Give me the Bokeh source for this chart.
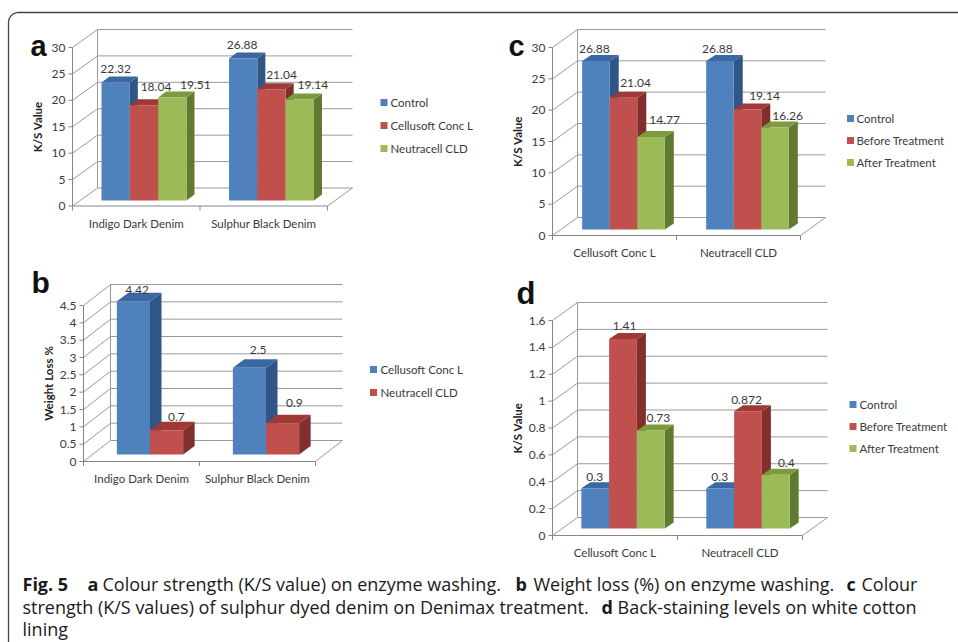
import math
from bokeh.plotting import figure
from bokeh.models import Range1d, ColumnDataSource
from bokeh.core.properties import value
from bokeh.embed import file_html
from bokeh.resources import INLINE

# ---------------- data ----------------
a_categories = ["Indigo Dark Denim", "Sulphur Black Denim"]
a_series = ["Control", "Cellusoft Conc L", "Neutracell CLD"]
a_control = [22.32, 26.88]
a_cellusoft = [18.04, 21.04]
a_neutracell = [19.51, 19.14]
a_ticks = [0, 5, 10, 15, 20, 25, 30]
a_tick_labels = ["0", "5", "10", "15", "20", "25", "30"]
a_ylabel = "K/S Value"

b_categories = ["Indigo Dark Denim", "Sulphur Black Denim"]
b_series = ["Cellusoft Conc L", "Neutracell CLD"]
b_cellusoft = [4.42, 2.5]
b_neutracell = [0.7, 0.9]
b_ticks = [0, 0.5, 1, 1.5, 2, 2.5, 3, 3.5, 4, 4.5]
b_tick_labels = ["0", "0.5", "1", "1.5", "2", "2.5", "3", "3.5", "4", "4.5"]
b_ylabel = "Weight Loss %"

c_categories = ["Cellusoft Conc L", "Neutracell CLD"]
c_series = ["Control", "Before Treatment", "After Treatment"]
c_control = [26.88, 26.88]
c_before = [21.04, 19.14]
c_after = [14.77, 16.26]
c_ticks = [0, 5, 10, 15, 20, 25, 30]
c_tick_labels = ["0", "5", "10", "15", "20", "25", "30"]
c_ylabel = "K/S Value"

d_categories = ["Cellusoft Conc L", "Neutracell CLD"]
d_series = ["Control", "Before Treatment", "After Treatment"]
d_control = [0.3, 0.3]
d_before = [1.41, 0.872]
d_after = [0.73, 0.4]
d_ticks = [0, 0.2, 0.4, 0.6, 0.8, 1.0, 1.2, 1.4, 1.6]
d_tick_labels = ["0", "0.2", "0.4", "0.6", "0.8", "1", "1.2", "1.4", "1.6"]
d_ylabel = "K/S Value"

caption_lines = [
    [("Fig. 5", True), ("a", True), ("Colour strength (K/S value) on enzyme washing.", False),
     ("b", True), ("Weight loss (%) on enzyme washing.", False), ("c", True), ("Colour", False)],
    [("strength (K/S values) of sulphur dyed denim on Denimax treatment.", False),
     ("d", True), ("Back-staining levels on white cotton", False)],
    [("lining", False)],
]

# ---------------- styling / layout ----------------
W, H = 958, 642
FONT = "Lato"
CAP_FONT = "Open Sans"
TXT = "#3a3a3a"
GRID = "#9a9a9a"
AXIS = "#868686"
FACE = {
    "blue": ("#4f81bd", "#3b68a3", "#2f5684"),
    "red": ("#c0504d", "#9e3936", "#812f2d"),
    "green": ("#9bbb59", "#7c9a3e", "#617a31"),
}

panels = [
    dict(name="a", cats=a_categories, series=a_series,
         values=[a_control, a_cellusoft, a_neutracell], colors=["blue", "red", "green"],
         ticks=a_ticks, tick_labels=a_tick_labels, ylabel=a_ylabel,
         x0=72, x1=327, y0=205.5, ytop=47, wall=(25, 18), off=(7.75, 5.5), depth=(8, 6),
         letter=(30, 45, 29), legend=(383.5, 390, 102, 23),
         nudges=[(-4, 8), (8, 12), (19, 6), (-5, 7), (6, 8), (9, 8)]),
    dict(name="b", cats=b_categories, series=b_series,
         values=[b_cellusoft, b_neutracell], colors=["blue", "red"],
         ticks=b_ticks, tick_labels=b_tick_labels, ylabel=b_ylabel,
         x0=83, x1=315, y0=461, ytop=305, wall=(27, 21), off=(8.5, 7), depth=(11.5, 8.5),
         letter=(31, 282, 30), legend=(373, 380, 369, 23),
         nudges=[(-2, 3), (4, 5), (3, 9), (6, 12)]),
    dict(name="c", cats=c_categories, series=c_series,
         values=[c_control, c_before, c_after], colors=["blue", "red", "green"],
         ticks=c_ticks, tick_labels=c_tick_labels, ylabel=c_ylabel,
         x0=552, x1=800, y0=235, ytop=47, wall=(25, 18), off=(9, 6), depth=(9, 6),
         letter=(508, 45, 29), legend=(850, 856, 118, 22),
         nudges=[(-6, 6), (7.5, 9), (9, 11), (-7, 6), (12.5, 8), (8, 6)]),
    dict(name="d", cats=d_categories, series=d_series,
         values=[d_control, d_before, d_after], colors=["blue", "red", "green"],
         ticks=d_ticks, tick_labels=d_tick_labels, ylabel=d_ylabel,
         x0=552, x1=802, y0=535, ytop=320, wall=(25, 18), off=(8, 7), depth=(9, 6),
         letter=(516, 293, 31), legend=(852.5, 859, 404, 22),
         nudges=[(-5, 5), (-3, 7.5), (3, 6), (-5, 5), (-6, 5), (6, 6)]),
]

caption_layout = [
    (583, [22, 87, 102, 515, 533, 846, 861]),
    (606, [22, 601, 617]),
    (628, [22]),
]

p = figure(width=W, height=H, x_range=Range1d(0, W), y_range=Range1d(H, 0),
           output_backend="svg", toolbar_location=None, min_border=0,
           x_axis_type=None, y_axis_type=None, outline_line_color=None)
p.background_fill_color = "white"
p.border_fill_color = "white"

ranges = {}
for pn in panels:
    k = (pn["y0"] - pn["ytop"]) / pn["ticks"][-1]
    pn["k"] = k
    ranges["y_" + pn["name"]] = Range1d(start=(pn["y0"] - H) / k, end=pn["y0"] / k)
p.extra_y_ranges = ranges

for pn in panels:
    rn = "y_" + pn["name"]
    k = pn["k"]
    x0, x1 = pn["x0"], pn["x1"]
    wdx, wdy = pn["wall"]
    wv = wdy / k
    vmax = pn["ticks"][-1]
    ticks = pn["ticks"]

    # back wall gridlines, left wall diagonals, floor edges
    sx0, sy0, sx1, sy1 = [], [], [], []
    for t in ticks:
        sx0 += [x0 + wdx, x0]
        sy0 += [t + wv, t]
        sx1 += [x1 + wdx, x0 + wdx]
        sy1 += [t + wv, t + wv]
    sx0 += [x0 + wdx, x1]
    sy0 += [wv, 0]
    sx1 += [x0 + wdx, x1 + wdx]
    sy1 += [vmax + wv, wv]
    p.segment(x0=sx0, y0=sy0, x1=sx1, y1=sy1, y_range_name=rn,
              line_color=GRID, line_width=1)

    # front axes
    ax0, ay0, ax1, ay1 = [x0, x0], [0, 0], [x0, x1], [vmax, 0]
    for t in ticks:
        ax0.append(x0 - 4); ay0.append(t); ax1.append(x0); ay1.append(t)
    for xt in (x0, (x0 + x1) / 2, x1):
        ax0.append(xt); ay0.append(0); ax1.append(xt); ay1.append(-4.5 / k)
    p.segment(x0=ax0, y0=ay0, x1=ax1, y1=ay1, y_range_name=rn,
              line_color=AXIS, line_width=1)

    p.text(x=[x0 - 7] * len(ticks), y=ticks, text=pn["tick_labels"], y_range_name=rn,
           text_font=value(FONT), text_font_size="12px", text_color=TXT,
           text_align="right", text_baseline="middle")

    # y axis title
    p.text(x=[x0 - 35], y=[vmax / 2], text=[pn["ylabel"]], y_range_name=rn, angle=math.pi / 2,
           text_font=value(FONT), text_font_size="11.5px", text_font_style="bold",
           text_color="#222222", text_align="center", text_baseline="middle")

    # category labels
    ng = len(pn["cats"])
    gw = (x1 - x0) / ng
    p.text(x=[x0 + (g + 0.5) * gw for g in range(ng)], y=[-17 / k] * ng, text=pn["cats"],
           y_range_name=rn, text_font=value(FONT), text_font_size="11.5px", text_color=TXT,
           text_align="center", text_baseline="middle")

    # 3-D bars
    ns = len(pn["series"])
    bw = gw / (ns + 1.5)
    ox, oy = pn["off"]
    ddx, ddy = pn["depth"]
    xs, ys, cols = [], [], []
    lx, ly, lt = [], [], []
    i = 0
    for g in range(ng):
        for s in range(ns):
            v = pn["values"][s][g]
            left = x0 + g * gw + 0.75 * bw + s * bw + ox
            right = left + bw
            base = oy / k
            top = v + oy / k
            dv = ddy / k
            front_c, top_c, side_c = FACE[pn["colors"][s]]
            xs += [[right, right + ddx, right + ddx, right],
                   [left, right, right + ddx, left + ddx],
                   [left, right, right, left]]
            ys += [[base, base + dv, top + dv, top],
                   [top, top, top + dv, top + dv],
                   [base, base, top, top]]
            cols += [side_c, top_c, front_c]
            nx, ny = pn["nudges"][i]
            lx.append(left + bw / 2 + ddx / 2 + nx)
            ly.append(top + (ddy + ny) / k)
            lt.append(str(v))
            i += 1
    src = ColumnDataSource(dict(xs=xs, ys=ys, c=cols))
    p.patches(xs="xs", ys="ys", fill_color="c", line_color=None, source=src, y_range_name=rn)
    p.text(x=lx, y=ly, text=lt, y_range_name=rn, text_font=value(FONT),
           text_font_size="12px", text_color=TXT, text_align="center", text_baseline="middle")

    # legend
    sqx, tx, ly0, sp = pn["legend"]
    lys = [ly0 + j * sp for j in range(ns)]
    p.scatter(x=[sqx] * ns, y=lys, marker="square", size=7, line_color=None,
              fill_color=[FACE[c][0] for c in pn["colors"]])
    p.text(x=[tx] * ns, y=lys, text=pn["series"], text_font=value(FONT),
           text_font_size="11.5px", text_color=TXT, text_align="left", text_baseline="middle")

    # panel letter
    lxp, lyp, lfs = pn["letter"]
    p.text(x=[lxp], y=[lyp], text=[pn["name"]], text_font=value("Liberation Sans"),
           text_font_size=f"{lfs}px", text_font_style="bold", text_color="#111111",
           text_align="left", text_baseline="alphabetic")

# caption
for (yb, xsl), segs in zip(caption_layout, caption_lines):
    for xx, (t, bold) in zip(xsl, segs):
        p.text(x=[xx], y=[yb], text=[t], text_font=value(CAP_FONT), text_font_size="18px",
               text_font_style="bold" if bold else "normal", text_color="#1a1a1a",
               text_align="left", text_baseline="alphabetic")

# rounded frame (decoration)
bx, by = [8, 8], [H, 22]
for j in range(0, 91, 10):
    t = math.radians(j)
    bx.append(18 - 10 * math.cos(t))
    by.append(22 - 10 * math.sin(t))
bx.append(W); by.append(12)
p.line(x=bx, y=by, line_color="#444444", line_width=1.3)

open("out.html", "w").write(file_html(p, INLINE))
